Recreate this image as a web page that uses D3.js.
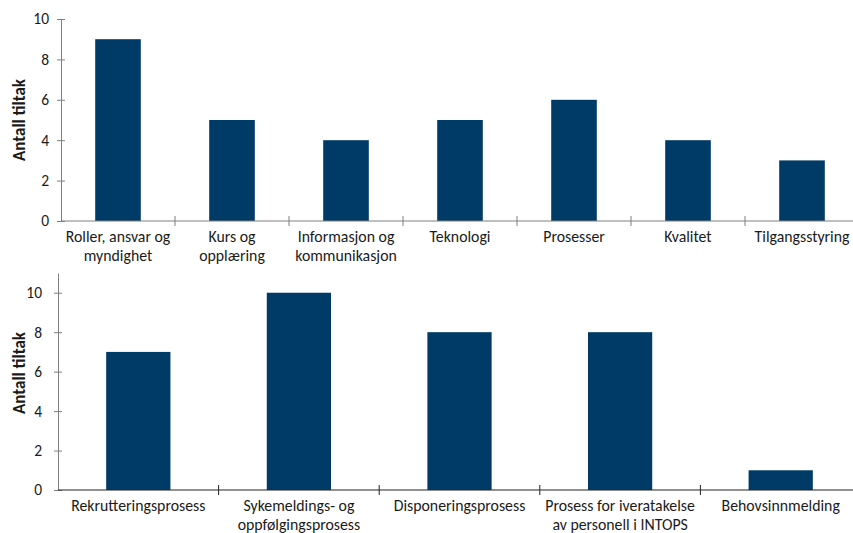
<!DOCTYPE html>
<html>
<head>
<meta charset="utf-8">
<script src="https://cdn.jsdelivr.net/npm/d3@7/dist/d3.min.js"></script>
<style>
  html, body { margin: 0; padding: 0; background: #fff; }
  svg { display: block; }
  text { font-family: Calibri, Carlito, Lato, "Open Sans", sans-serif; fill: #1a1a1a; }
</style>
</head>
<body>
<svg id="chart" width="853" height="533"></svg>
<script>
// Tiltak per område (øvre panel)
const topCategories = [
  ["Roller, ansvar og", "myndighet"],
  ["Kurs og", "opplæring"],
  ["Informasjon og", "kommunikasjon"],
  ["Teknologi"],
  ["Prosesser"],
  ["Kvalitet"],
  ["Tilgangsstyring"]
];
const topValues = [9, 5, 4, 5, 6, 4, 3];

// Tiltak per prosess (nedre panel)
const bottomCategories = [
  ["Rekrutteringsprosess"],
  ["Sykemeldings- og", "oppfølgingsprosess"],
  ["Disponeringsprosess"],
  ["Prosess for iveratakelse", "av personell i INTOPS"],
  ["Behovsinnmelding"]
];
const bottomValues = [7, 10, 8, 8, 1];

const yTicks = [0, 2, 4, 6, 8, 10];
const yLabel = "Antall tiltak";
const barColor = "#003a67";

const svg = d3.select("#chart");

function panel(cfg) {
  const g = svg.append("g");
  const idx = cfg.categories.map((_, i) => i);
  const x = d3.scaleBand().domain(idx).range([cfg.x0, cfg.x1])
    .paddingInner(0.6).paddingOuter(0.3);
  const y = d3.scaleLinear().domain([0, cfg.yMax]).range([cfg.yBottom, cfg.yTop]);
  const step = x.step();

  // bars
  g.selectAll("rect.bar").data(cfg.values).join("rect")
    .attr("class", "bar")
    .attr("x", (d, i) => x(i))
    .attr("width", x.bandwidth())
    .attr("y", d => y(d))
    .attr("height", d => y(0) - y(d))
    .attr("fill", barColor);

  // y axis
  const yAxis = g.append("g")
    .attr("transform", `translate(${cfg.x0},0)`)
    .call(d3.axisLeft(y).tickValues(yTicks).tickSize(4).tickPadding(cfg.tickPad).tickSizeOuter(0));
  yAxis.select(".domain").attr("stroke", cfg.yAxisColor);
  yAxis.selectAll(".tick line").attr("x1", 4).attr("stroke", cfg.yAxisColor);
  yAxis.selectAll(".tick text")
    .style("font-size", "15.5px").style("fill", "#1a1a1a");

  // x axis line and category separators
  g.append("line")
    .attr("x1", cfg.x0).attr("x2", 853)
    .attr("y1", y(0)).attr("y2", y(0))
    .attr("stroke", cfg.xAxisColor).attr("stroke-width", 1);
  g.selectAll("line.sep").data(idx.slice(1)).join("line")
    .attr("class", "sep")
    .attr("x1", i => x(i) + x.bandwidth() / 2 - step / 2)
    .attr("x2", i => x(i) + x.bandwidth() / 2 - step / 2)
    .attr("y1", y(0) - 5).attr("y2", y(0) + 5)
    .attr("stroke", cfg.xAxisColor);

  // category labels
  const lbl = g.selectAll("text.cat").data(cfg.categories).join("text")
    .attr("class", "cat")
    .attr("text-anchor", "middle")
    .style("font-size", "15.8px")
    .attr("transform", (d, i) => `translate(${x(i) + x.bandwidth() / 2},${y(0) + cfg.labelOffset})`);
  lbl.selectAll("tspan").data(d => d).join("tspan")
    .attr("x", 0).attr("y", (d, j) => j * 19)
    .text(d => d);

  // y title
  g.append("text")
    .attr("transform", `translate(${cfg.titleX},${cfg.titleY}) rotate(-90)`)
    .attr("text-anchor", "middle")
    .attr("dy", "0.35em")
    .style("font-size", "17px")
    .style("font-weight", "bold")
    .text(yLabel);
}

panel({
  categories: topCategories, values: topValues,
  x0: 61, x1: 859, yTop: 19, yBottom: 221, yMax: 10,
  tickPad: 8, labelOffset: 21, titleX: 19, titleY: 120,
  yAxisColor: "#7f7f7f", xAxisColor: "#7f7f7f"
});

panel({
  categories: bottomCategories, values: bottomValues,
  x0: 58, x1: 861, yTop: 273, yBottom: 490, yMax: 11,
  tickPad: 12, labelOffset: 21, titleX: 19, titleY: 373,
  yAxisColor: "#7f7f7f", xAxisColor: "#222"
});
</script>
</body>
</html>
